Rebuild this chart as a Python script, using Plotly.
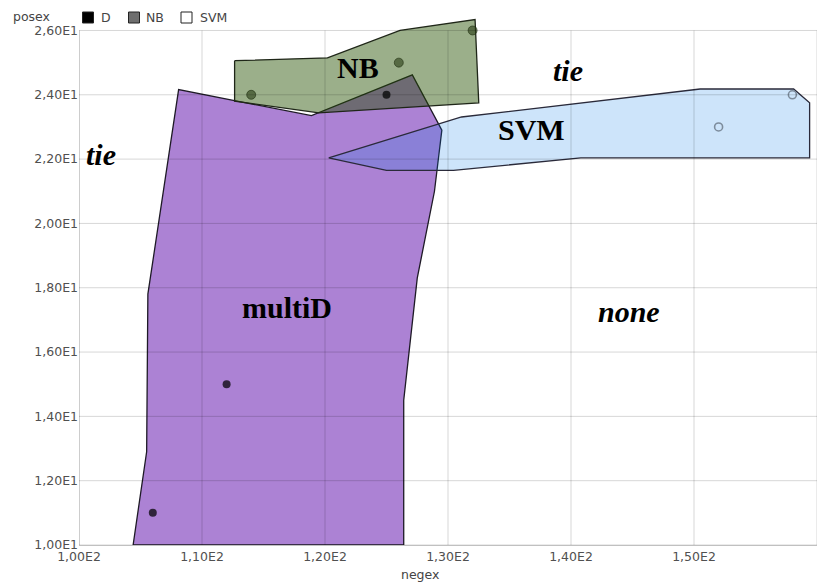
import plotly.graph_objects as go

# ---------------- data ----------------
x_ticks = [100, 110, 120, 130, 140, 150, 160]
x_ticktext = ["1,00E2", "1,10E2", "1,20E2", "1,30E2", "1,40E2", "1,50E2", "1,60E2"]
y_ticks = [10, 12, 14, 16, 18, 20, 22, 24, 26]
y_ticktext = ["1,00E1", "1,20E1", "1,40E1", "1,60E1", "1,80E1", "2,00E1", "2,20E1", "2,40E1", "2,60E1"]

# sample points
d_x = [106, 112, 125]
d_y = [11, 15, 24]
nb_x = [114, 126, 132]
nb_y = [24, 25, 26]
svm_x = [152, 158]
svm_y = [23, 24]

# decision regions (polygon vertices)
multid_x = [104.4, 105.5, 105.6, 108.1, 118.9, 127.1, 129.5, 128.9, 127.5, 126.4, 126.4]
multid_y = [10.0, 12.9, 17.8, 24.16, 23.35, 24.62, 22.9, 21.0, 18.3, 14.5, 10.0]
nbreg_x = [112.65, 120.2, 126.1, 132.2, 132.5, 119.5, 112.65]
nbreg_y = [25.06, 25.15, 26.0, 26.34, 23.75, 23.44, 23.8]
svmreg_x = [120.3, 129.4, 131.1, 150.5, 158.1, 159.4, 159.4, 140.8, 130.45, 125.0]
svmreg_y = [22.04, 23.13, 23.31, 24.18, 24.18, 23.75, 22.04, 22.04, 21.65, 21.65]

# region labels
region_labels = ["NB", "SVM", "tie", "tie", "multiD", "none"]
region_italic = [False, False, True, True, False, True]
label_x = [122.65, 136.77, 139.74, 101.8, 116.9, 144.7]
label_y = [24.85, 22.92, 24.74, 22.14, 17.38, 17.26]

legend_names = ["D", "NB", "SVM"]
legend_fill = ["#000000", "#6e6e6e", "#ffffff"]

X_MIN, X_MAX = 100, 160
Y_MIN, Y_MAX, Y_VIEW_MAX = 10, 26, 26.45

# ---------------- figure ----------------
fig = go.Figure()

def close(xs, ys):
    return list(xs) + [xs[0]], list(ys) + [ys[0]]

mx, my = close(multid_x, multid_y)
fig.add_trace(go.Scatter(x=mx, y=my, mode="lines", fill="toself",
                         fillcolor="rgba(144,88,198,0.75)",
                         line=dict(color="#1e1a26", width=1.3),
                         showlegend=False, hoverinfo="skip"))
nx, ny = close(nbreg_x, nbreg_y)
fig.add_trace(go.Scatter(x=nx, y=ny, mode="lines", fill="toself",
                         fillcolor="rgba(38,81,0,0.46)",
                         line=dict(color="#1f2618", width=1.3),
                         showlegend=False, hoverinfo="skip"))
sx, sy = close(svmreg_x, svmreg_y)
fig.add_trace(go.Scatter(x=sx, y=sy, mode="lines", fill="toself",
                         fillcolor="rgba(5,120,230,0.2)",
                         line=dict(color="#2a2a3a", width=1.3),
                         showlegend=False, hoverinfo="skip"))

# points
fig.add_trace(go.Scatter(x=d_x, y=d_y, mode="markers", name="D",
                         marker=dict(size=8, color="rgba(0,0,0,0.72)", line=dict(width=0)),
                         showlegend=False))
fig.add_trace(go.Scatter(x=nb_x, y=nb_y, mode="markers", name="NB",
                         marker=dict(size=9, color="rgba(40,60,20,0.6)",
                                     line=dict(width=1, color="rgba(30,45,15,0.6)")),
                         showlegend=False))
fig.add_trace(go.Scatter(x=svm_x, y=svm_y, mode="markers", name="SVM",
                         marker=dict(size=8, symbol="circle-open", color="#7d8c9c",
                                     line=dict(width=1.6)),
                         showlegend=False))

shapes = []
# grid lines drawn above regions (multiply-like look)
for xv in x_ticks:
    shapes.append(dict(type="line", xref="x", yref="y", x0=xv, x1=xv, y0=Y_MIN, y1=Y_MAX,
                       line=dict(color="rgba(0,0,0,0.16)", width=1), layer="above"))
for yv in y_ticks:
    shapes.append(dict(type="line", xref="x", yref="y", x0=X_MIN, x1=X_MAX, y0=yv, y1=yv,
                       line=dict(color="rgba(0,0,0,0.16)", width=1), layer="above"))
# left axis line
shapes.append(dict(type="line", xref="x", yref="y", x0=X_MIN, x1=X_MIN, y0=Y_MIN, y1=Y_MAX,
                   line=dict(color="rgba(0,0,0,0.25)", width=1), layer="above"))

# layout geometry (pixels)
PL, PW, PT, PH = 79, 738, 16, 529
def px2paper(px, py):
    return (px - PL) / PW, (PT + PH - py) / PH

sq_left = [82.5, 128.5, 181]
txt_left = [99, 144, 198]
annotations = []
for i, name in enumerate(legend_names):
    x0, y0 = px2paper(sq_left[i], 23)
    x1, y1 = px2paper(sq_left[i] + 11, 12)
    shapes.append(dict(type="rect", xref="paper", yref="paper", x0=x0, x1=x1, y0=y0, y1=y1,
                       fillcolor=legend_fill[i], line=dict(color="#222222", width=1)))
    tx, ty = px2paper(txt_left[i], 17.5)
    annotations.append(dict(text=name, xref="paper", yref="paper", x=tx, y=ty,
                            xanchor="left", yanchor="middle", showarrow=False,
                            font=dict(family="DejaVu Sans", size=12.5, color="#444444")))

# y axis title "posex"
tx, ty = px2paper(52, 16.5)
annotations.append(dict(text="posex", xref="paper", yref="paper", x=tx, y=ty,
                        xanchor="right", yanchor="middle", showarrow=False,
                        font=dict(family="DejaVu Sans", size=12.5, color="#444444")))
# x axis title "negex"
tx, ty = px2paper(420, 574)
annotations.append(dict(text="negex", xref="paper", yref="paper", x=tx, y=ty,
                        xanchor="center", yanchor="middle", showarrow=False,
                        font=dict(family="DejaVu Sans", size=12.5, color="#444444")))

# region labels
for lab, it, lx, ly in zip(region_labels, region_italic, label_x, label_y):
    t = f"<b><i>{lab}</i></b>" if it else f"<b>{lab}</b>"
    annotations.append(dict(text=t, x=lx, y=ly, xref="x", yref="y", showarrow=False,
                            xanchor="center", yanchor="middle",
                            font=dict(family="Liberation Serif", size=30, color="#000000")))

fig.update_layout(
    width=836, height=583,
    margin=dict(l=PL, r=836 - PL - PW, t=PT, b=583 - PT - PH, autoexpand=False),
    paper_bgcolor="white", plot_bgcolor="white",
    showlegend=False,
    shapes=shapes, annotations=annotations,
    xaxis=dict(range=[X_MIN, X_MAX], tickvals=x_ticks, ticktext=x_ticktext,
               showgrid=False, zeroline=False, showline=True, linecolor="#c0c0c0",
               ticks="", tickfont=dict(family="DejaVu Sans", size=12.5, color="#505050"),
               fixedrange=True, automargin=False),
    yaxis=dict(range=[Y_MIN, Y_VIEW_MAX], tickvals=y_ticks, ticktext=y_ticktext,
               showgrid=False, zeroline=False, showline=False,
               ticks="", tickfont=dict(family="DejaVu Sans", size=12.5, color="#505050"),
               fixedrange=True, automargin=False),
)

fig.write_html("out.html",
               config={"displayModeBar": False},
               post_script="document.body.style.margin='0';document.body.style.padding='0';")
